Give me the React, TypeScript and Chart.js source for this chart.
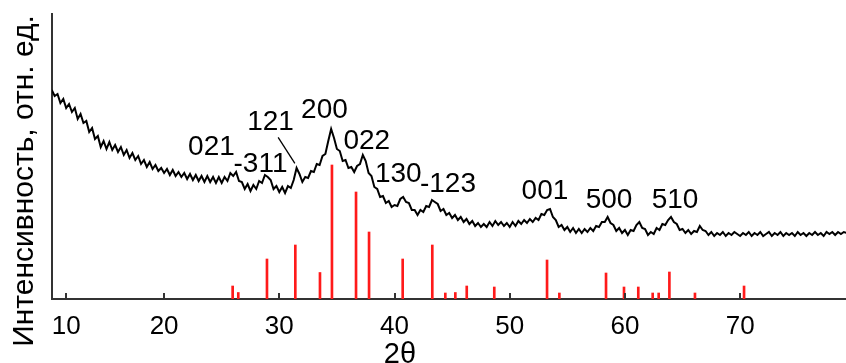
import { useEffect, useRef } from 'react';
import { Chart, registerables } from 'chart.js';

Chart.register(...registerables);

// Diffraction scan: 2θ grid start/step and measured intensity (arb. units)
const scanStart = 10.25;
const scanStep = 0.25;
const scanIntensity = [
  209, 203, 205, 196, 200, 191, 195, 187, 191, 180, 185, 176, 178, 167, 171, 160,
  163, 152, 158, 150, 157, 149, 154, 147, 152, 144, 149, 141, 146, 139, 143, 135,
  139, 132, 137, 130, 134, 128, 131, 126, 130, 124, 129, 123, 127, 122, 126, 120,
  125, 119, 124, 118, 123, 117, 123, 117, 122, 116, 122, 116, 122, 118, 126, 123,
  127, 118, 117, 110, 115, 108, 114, 110, 118, 116, 124, 122, 119, 110, 113, 107,
  112, 106, 113, 111, 119, 131, 125, 117, 122, 121, 128, 127, 135, 134, 143, 145,
  158, 170, 161, 150, 148, 138, 139, 131, 132, 127, 133, 135, 144, 138, 126, 123,
  112, 110, 102, 103, 96, 98, 92, 94, 93, 100, 102, 97, 96, 89, 89, 84,
  89, 87, 93, 92, 99, 97, 95, 88, 90, 84, 86, 81, 84, 79, 82, 77,
  80, 75, 78, 73, 76, 72, 75, 72, 77, 73, 78, 74, 77, 73, 76, 72,
  77, 73, 78, 75, 79, 76, 80, 77, 81, 79, 85, 84, 89, 90, 82, 79,
  72, 74, 69, 72, 67, 71, 66, 70, 66, 70, 67, 71, 68, 73, 72, 77,
  77, 82, 76, 74, 68, 71, 66, 69, 64, 69, 68, 74, 77, 71, 70, 64,
  67, 65, 71, 69, 75, 74, 79, 82, 77, 75, 69, 70, 66, 69, 65, 68,
  67, 73, 69, 68, 64, 67, 63, 66, 64, 67, 63, 66, 64, 67, 65, 63,
  66, 64, 67, 63, 66, 64, 67, 63, 65, 67, 63, 66, 64, 67, 63, 66,
  64, 66, 63, 67, 64, 66, 63, 66, 64, 67, 64, 66, 63, 67, 65, 67,
  64, 67, 65, 67, 66,
];

// Reference pattern lines: 2θ positions and relative intensities
const refTwoTheta = [
  25.95, 26.44, 28.93, 31.39, 33.53, 34.57, 36.66, 37.79, 40.71, 43.28, 44.41, 45.28,
  46.27, 48.66, 53.24, 54.31, 58.36, 59.92, 61.16, 62.41, 62.93, 63.86, 66.08, 70.34,
];
const refIntensity = [
  13, 6.5, 40, 54, 26.5, 134, 107, 67, 40, 54, 6, 6.5,
  13, 12, 39, 6, 26, 12, 12, 6, 6, 27, 6, 13,
];

// Miller indices of the indexed reflections, with the 2θ / intensity where each label sits
const peakLabels = ['021', '-311', '121', '200', '022', '130', '-123', '001', '500', '510'];
const peakLabelTwoTheta = [24.11, 28.37, 29.24, 33.92, 37.59, 40.33, 44.64, 53.06, 58.62, 64.35];
const peakLabelLevel = [144, 127.3, 169, 180.7, 149.7, 117.3, 107.3, 99.7, 90.7, 91];

// Leader line from the 121 label to its peak (2θ, intensity)
const leaderFrom = [29.9, 161.7];
const leaderTo = [31.35, 135.7];

// Axis ticks
const tickValues = [11.5, 20, 30, 40, 50, 60, 70];
const tickLabels = ['10', '20', '30', '40', '50', '60', '70'];

const xTitle = '2θ';
const yTitle = 'Интенсивность, отн. ед.';

const axisColor = '#333333';
const sans = '"Liberation Sans", Arial, sans-serif';

const decorations = {
  id: 'decorations',
  afterDatasetsDraw(chart: any) {
    const { ctx, chartArea } = chart;
    const x = chart.scales.x;
    const y = chart.scales.y;
    ctx.save();

    // inward tick marks on the 2θ axis
    ctx.strokeStyle = axisColor;
    ctx.lineWidth = 2;
    x.ticks.forEach((t: any) => {
      const px = Math.round(x.getPixelForValue(t.value));
      ctx.beginPath();
      ctx.moveTo(px, chartArea.bottom);
      ctx.lineTo(px, chartArea.bottom - 6);
      ctx.stroke();
    });

    // hkl labels
    ctx.fillStyle = '#000';
    ctx.font = `28px ${sans}`;
    ctx.textAlign = 'center';
    ctx.textBaseline = 'alphabetic';
    peakLabels.forEach((t, i) => {
      ctx.fillText(t, x.getPixelForValue(peakLabelTwoTheta[i]), y.getPixelForValue(peakLabelLevel[i]));
    });

    ctx.strokeStyle = '#000';
    ctx.lineWidth = 1.3;
    ctx.beginPath();
    ctx.moveTo(x.getPixelForValue(leaderFrom[0]), y.getPixelForValue(leaderFrom[1]));
    ctx.lineTo(x.getPixelForValue(leaderTo[0]), y.getPixelForValue(leaderTo[1]));
    ctx.stroke();

    // axis titles
    ctx.font = `29px ${sans}`;
    ctx.fillText(xTitle, 400, 363);

    ctx.font = `30px ${sans}`;
    ctx.translate(33, 181);
    ctx.rotate(-Math.PI / 2);
    ctx.fillText(yTitle, 0, 0);

    ctx.restore();
  },
};

export default function App() {
  const canvasRef = useRef<HTMLCanvasElement | null>(null);

  useEffect(() => {
    if (!canvasRef.current) return;
    const scan = scanIntensity.map((v, i) => ({ x: scanStart + i * scanStep, y: v }));
    const sticks = refTwoTheta.map((t, i) => ({ x: t, y: refIntensity[i] }));

    const chart = new Chart(canvasRef.current, {
      type: 'line',
      data: {
        datasets: [
          {
            type: 'line',
            data: scan,
            borderColor: '#000000',
            borderWidth: 2,
            pointRadius: 0,
            tension: 0,
            order: 0,
          } as any,
          {
            type: 'bar',
            data: sticks,
            backgroundColor: '#ff1a1a',
            borderWidth: 0,
            barThickness: 2,
            grouped: false,
            order: 1,
          } as any,
        ],
      },
      options: {
        responsive: false,
        animation: false,
        events: [],
        layout: { padding: { top: 14, right: 0, bottom: 0, left: 0 } },
        plugins: {
          legend: { display: false },
          tooltip: { enabled: false },
        },
        scales: {
          x: {
            type: 'linear',
            min: 10.27,
            max: 79.19,
            offset: false,
            grid: { display: false, drawTicks: false },
            border: { display: true, color: axisColor, width: 2 },
            afterBuildTicks: (s: any) => {
              s.ticks = tickValues.map((v) => ({ value: v }));
            },
            afterFit: (s: any) => {
              s.height = 64;
            },
            ticks: {
              autoSkip: false,
              maxRotation: 0,
              padding: 12,
              color: '#000',
              font: { family: sans, size: 26 },
              callback: (_v: any, i: number) => tickLabels[i],
            },
          },
          y: {
            min: 0,
            max: 285,
            grid: { display: false, drawTicks: false },
            border: { display: true, color: axisColor, width: 2 },
            ticks: { display: false },
            afterFit: (s: any) => {
              s.width = 52;
            },
          },
        },
      },
      plugins: [decorations],
    });
    return () => chart.destroy();
  }, []);

  return (
    <div style={{ position: 'fixed', left: 0, top: 0, width: 846, height: 363, background: '#fff' }}>
      <canvas ref={canvasRef} width={846} height={363} />
    </div>
  );
}
